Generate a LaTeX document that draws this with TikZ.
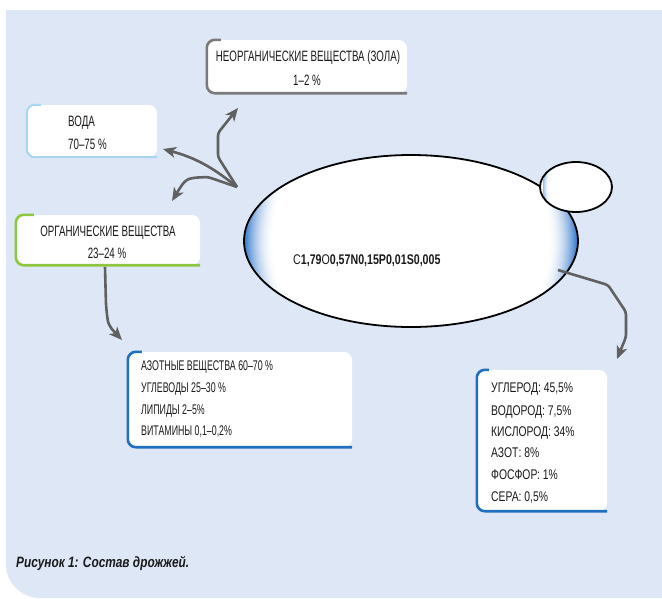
\documentclass[tikz,border=0pt]{standalone}
\usepackage{fontspec}
\setmainfont{Liberation Sans}
\newfontfamily\condA[FakeStretch=0.65]{Liberation Sans}
\newfontfamily\condN[FakeStretch=0.63]{Liberation Sans}
\newfontfamily\condB[FakeStretch=0.74]{Liberation Sans}
\newfontfamily\condF[FakeStretch=0.76]{Liberation Sans}
\newfontfamily\condC[FakeStretch=0.79]{Liberation Sans}
\usetikzlibrary{shapes.geometric,arrows.meta,calc}
\definecolor{panelc}{HTML}{DEE7F6}
\definecolor{arrowc}{HTML}{606060}
\definecolor{graybd}{HTML}{7A7A7A}
\definecolor{lightbd}{HTML}{A8D6F2}
\definecolor{greenbd}{HTML}{8DC63F}
\definecolor{bluebd}{HTML}{1F6FC0}
\definecolor{shblue}{HTML}{2F76CA}
\definecolor{txt}{HTML}{1A1A1A}
\tikzset{
  box/.style={rectangle, fill=white, rounded corners=8pt, inner sep=0pt},
  bd/.style={line width=2.6pt, rounded corners=8pt, line cap=butt},
  lbl/.style={inner sep=0pt, text=txt, font=\condA\fontsize{15}{17}\selectfont},
  lblN/.style={inner sep=0pt, text=txt, font=\condN\fontsize{14}{16}\selectfont},
  lblB/.style={inner sep=0pt, text=txt, font=\condB\fontsize{14}{16}\selectfont},
  conn/.style={draw=arrowc, line width=2.6pt, line join=round, rounded corners=3pt,
    -{Stealth[length=13pt,width=11pt,inset=3.5pt]}},
  cellshade/.style n args={4}{path picture={
    \foreach \i in {0,...,30}{
      \pgfmathsetmacro\pc{#4*(1-\i/30)^2}
      \pgfmathsetmacro\rx{(1-0.006*\i)*#1}
      \pgfmathsetmacro\ry{(1-0.006*\i)*#2}
      \fill[shblue!\pc!white] ($(path picture bounding box.center)+(#3,0)$) ellipse [x radius=\rx pt, y radius=\ry pt];
    }}},
}
\begin{document}
\begin{tikzpicture}[x=1pt,y=-1pt]
\useasboundingbox (0,0) rectangle (662,598);
% background panel
\fill[panelc, rounded corners=34pt] (6,10) rectangle (720,598);
\fill[panelc] (6,10) rectangle (60,60);

% boxes
\node[box, minimum width=200pt, minimum height=53pt] (inorg) at (307,66.5) {};
\node[box, minimum width=130pt, minimum height=52pt] (water) at (92,131) {};
\node[box, minimum width=184pt, minimum height=50pt] (org) at (108,240) {};
\node[box, minimum width=224pt, minimum height=95pt] (nitro) at (240,399.5) {};
\node[box, minimum width=130pt, minimum height=141pt] (elem) at (542,440.5) {};

% coloured borders
\draw[bd, graybd] ($(inorg.north west)+(14,0)$) -- (inorg.north west) -- (inorg.south west) -- (inorg.south east);
\draw[bd, lightbd, line width=2pt] ($(water.north west)+(14,0)$) -- (water.north west) -- (water.south west) -- (water.south east);
\draw[bd, greenbd] ($(org.north west)+(18,0)$) -- (org.north west) -- (org.south west) -- (org.south east);
\draw[bd, bluebd] ($(nitro.north west)+(14,0)$) -- (nitro.north west) -- (nitro.south west) -- (nitro.south east);
\draw[bd, bluebd] ($(elem.north west)+(12,0)$) -- (elem.north west) -- (elem.south west) -- (elem.south east);

% texts
\node[lbl] (t1a) at (308,58) {НЕОРГАНИЧЕСКИЕ ВЕЩЕСТВА (ЗОЛА)};
\node[lbl] (t1b) at (307,80) {1–2 \%};
\node[lbl, anchor=west] (t2a) at (68,123) {ВОДА};
\node[lbl, anchor=west] (t2b) at (68,144) {70–75 \%};
\node[lbl] (t3a) at (108,233) {ОРГАНИЧЕСКИЕ ВЕЩЕСТВА};
\node[lbl] (t3b) at (107,253) {23–24 \%};
\node[lblN, anchor=west] (t4a) at (141,367) {АЗОТНЫЕ ВЕЩЕСТВА 60–70 \%};
\node[lblN, anchor=west] (t4b) at (141,389) {УГЛЕВОДЫ 25–30 \%};
\node[lblN, anchor=west] (t4c) at (141,411) {ЛИПИДЫ 2–5\%};
\node[lblN, anchor=west] (t4d) at (141,432) {ВИТАМИНЫ 0,1–0,2\%};
\node[lblB, anchor=west] (t5a) at (491,389) {УГЛЕРОД: 45,5\%};
\node[lblB, anchor=west] (t5b) at (491,412) {ВОДОРОД: 7,5\%};
\node[lblB, anchor=west] (t5c) at (491,433) {КИСЛОРОД: 34\%};
\node[lblB, anchor=west] (t5d) at (491,453) {АЗОТ: 8\%};
\node[lblB, anchor=west] (t5e) at (491,475) {ФОСФОР: 1\%};
\node[lblB, anchor=west] (t5f) at (491,497) {СЕРА: 0,5\%};

% cell ellipses
\node[ellipse, draw=black, line width=1.8pt, fill=white, cellshade={167}{172}{0}{100}, minimum width=334pt, minimum height=172pt, inner sep=0pt] (cell) at (411,241) {};
\node[ellipse, draw=black, line width=1.8pt, fill=white, cellshade={36}{50}{3}{55}, minimum width=72pt, minimum height=50pt, inner sep=0pt] (bud) at (576,187) {};
\node[inner sep=0pt, text=txt, font=\condF\fontsize{14}{16}\selectfont, anchor=west] (formula) at (293,261) {C\textbf{1,79}O\textbf{0,57N0,15P0,01S0,005}};

% connectors
\coordinate (hub) at (237,187);
\coordinate (h1) at (218,157);
\coordinate (h2) at (218,133);
\coordinate (tipI) at (238,108);
\coordinate (tipW) at (163,149);
\coordinate (o1) at (208,177);
\coordinate (tipO) at (172,201);
\coordinate (orgout) at (105,267);
\coordinate (o2) at (106,305);
\coordinate (tipN) at (122,340);
\coordinate (c0) at (558,270);
\coordinate (c1) at (608,285);
\coordinate (c2) at (626,312);
\coordinate (c3) at (626,337);
\coordinate (tipE) at (617,359);

\draw[conn] (hub) -- (h1) -- (h2) -- (tipI);
\draw[conn] (hub) to[bend right=12] (tipW);
\draw[conn] (hub) -- (o1) .. controls (186,178) .. (tipO);
\draw[conn] (orgout) -- (o2) .. controls (108,325) .. (tipN);
\draw[conn] (c0) -- (c1) -- (c2) -- (c3) -- (tipE);

% caption
\node[inner sep=0pt, anchor=west, text=txt, font=\condC\bfseries\itshape\fontsize{15}{17}\selectfont] (caption) at (16,563) {Рисунок 1: Состав дрожжей.};
\end{tikzpicture}
\end{document}
